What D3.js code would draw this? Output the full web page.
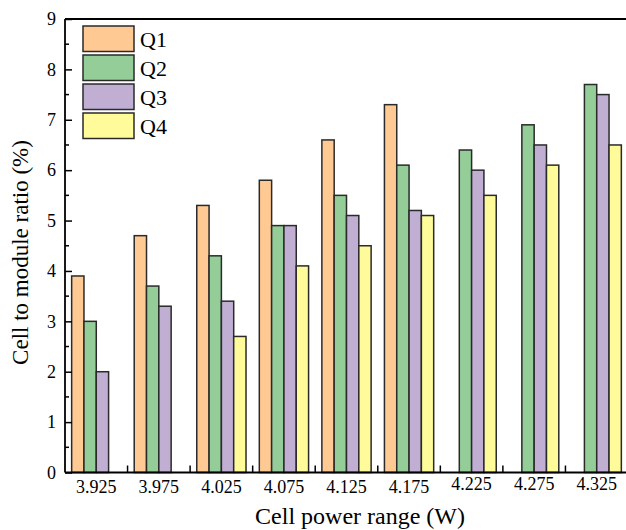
<!DOCTYPE html>
<html><head><meta charset="utf-8">
<script src="https://cdn.jsdelivr.net/npm/d3@7"></script>
<style>body{margin:0;background:#fff}svg{display:block;overflow:hidden}</style>
</head><body>
<svg id="c" width="626" height="530"></svg>
<script>
const categories = ["3.925","3.975","4.025","4.075","4.125","4.175","4.225","4.275","4.325"];
const seriesNames = ["Q1","Q2","Q3","Q4"];
const Q1 = [3.9, 4.7, 5.3, 5.8, 6.6, 7.3, 0, 0, 0];
const Q2 = [3.0, 3.7, 4.3, 4.9, 5.5, 6.1, 6.4, 6.9, 7.7];
const Q3 = [2.0, 3.3, 3.4, 4.9, 5.1, 5.2, 6.0, 6.5, 7.5];
const Q4 = [0, 0, 2.7, 4.1, 4.5, 5.1, 5.5, 6.1, 6.5];
const yTicks = [0,1,2,3,4,5,6,7,8,9];
const colors = ["#FFC994","#94CD98","#C0AFD3","#FFFB9A"];
const seriesValues = [Q1,Q2,Q3,Q4];

const svg = d3.select("#c");
const L = 65, T = 19, R = 628, B = 472.5;
const FF = '"Liberation Serif"';

const x = d3.scaleBand().domain(categories).range([L, R]).paddingInner(0).paddingOuter(0);
const xs = d3.scaleBand().domain(seriesNames).range([0, x.bandwidth()]).paddingInner(0).paddingOuter(0.54);
const y = d3.scaleLinear().domain([0, 9]).range([B, T]);

// bars
const g = svg.append("g");
categories.forEach((c, i) => {
  seriesNames.forEach((s, j) => {
    const v = seriesValues[j][i];
    if (!v) return;
    g.append("rect")
      .attr("x", x(c) + xs(s))
      .attr("y", y(v))
      .attr("width", xs.bandwidth())
      .attr("height", y(0) - y(v))
      .attr("fill", colors[j])
      .attr("stroke", "#2a2a2a")
      .attr("stroke-width", 1.5);
  });
});

// y axis
const yAxis = d3.axisRight(y).tickValues(yTicks).tickSize(7).tickFormat("");
const ya = svg.append("g").attr("transform", `translate(${L},0)`).call(yAxis);
ya.select(".domain").remove();
ya.selectAll("line").attr("stroke", "#000").attr("stroke-width", 1.5);
const minor = d3.range(0.5, 9, 1);
svg.append("g").selectAll("line").data(minor).join("line")
  .attr("x1", L).attr("x2", L + 4).attr("y1", d => y(d)).attr("y2", d => y(d))
  .attr("stroke", "#000").attr("stroke-width", 1.5);
svg.append("g").selectAll("text").data(yTicks).join("text")
  .attr("x", L - 9).attr("y", d => y(d)).attr("dy", "0.35em")
  .attr("text-anchor", "end").style("font-family", FF).style("font-size", "18px")
  .text(d => d);

// x axis ticks at group boundaries
const bounds = categories.slice(1).map(c => x(c));
svg.append("g").selectAll("line").data(bounds).join("line")
  .attr("x1", d => d).attr("x2", d => d).attr("y1", B).attr("y2", B - 7)
  .attr("stroke", "#000").attr("stroke-width", 1.5);
svg.append("g").selectAll("text").data(categories).join("text")
  .attr("x", d => x(d) + x.bandwidth() / 2).attr("y", (d, i) => B + (i >= 6 ? 17 : 20))
  .attr("text-anchor", "middle").style("font-family", FF).style("font-size", "18px")
  .text(d => d);

// frame lines
svg.append("line").attr("x1", L).attr("x2", R).attr("y1", B).attr("y2", B).attr("stroke", "#000").attr("stroke-width", 1.8);
svg.append("line").attr("x1", L).attr("x2", R).attr("y1", T).attr("y2", T).attr("stroke", "#000").attr("stroke-width", 1.8);
svg.append("line").attr("x1", L).attr("x2", L).attr("y1", T).attr("y2", B).attr("stroke", "#000").attr("stroke-width", 1.8);

// axis titles
svg.append("text").attr("x", 360).attr("y", 524).attr("text-anchor", "middle")
  .style("font-family", FF).style("font-size", "24px").text("Cell power range (W)");
svg.append("text").attr("transform", "translate(28,252.5) rotate(-90)").attr("text-anchor", "middle")
  .style("font-family", FF).style("font-size", "23px").text("Cell to module ratio (%)");

// legend
const lg = svg.append("g");
seriesNames.forEach((s, j) => {
  lg.append("rect").attr("x", 83).attr("y", 26 + j * 29).attr("width", 51).attr("height", 25.5)
    .attr("fill", colors[j]).attr("stroke", "#2a2a2a").attr("stroke-width", 1.5);
  lg.append("text").attr("x", 140).attr("y", 26 + j * 29 + 21)
    .style("font-family", FF).style("font-size", "22px").text(s);
});
</script>
</body></html>
